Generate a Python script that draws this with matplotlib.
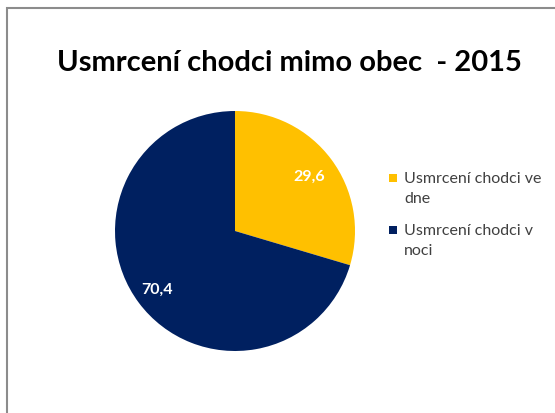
import matplotlib
matplotlib.use("Agg")
import matplotlib.pyplot as plt
from matplotlib.patches import Rectangle
import numpy as np

categories = ["Usmrcení chodci ve\ndne", "Usmrcení chodci v\nnoci"]
values = [29.6, 70.4]
colors = ["#FFC000", "#002060"]
title = "Usmrcení chodci mimo obec  - 2015"

W, H = 555, 414
fig = plt.figure(figsize=(W/100, H/100), dpi=100)
fig.patch.set_facecolor("white")

# outer chart-area border (cut at right and bottom)
fig.patches.append(Rectangle((7/W, -0.05), 1.2, (H-9)/H + 0.05, transform=fig.transFigure,
                             fill=False, edgecolor="#8c8c8c", linewidth=1.5))

ax = fig.add_axes([115/W, (H-352)/H, 240/W, 240/H])
wedges, _ = ax.pie(values, colors=colors, startangle=90, counterclock=False, radius=1,
                   wedgeprops=dict(linewidth=0))
ax.set_xlim(-1, 1)
ax.set_ylim(-1, 1)
ax.set_aspect("equal")
ax.axis("off")

dists = [0.77, 0.81]
for w, v, d in zip(wedges, values, dists):
    ang = np.deg2rad((w.theta1 + w.theta2) / 2)
    ax.text(d*np.cos(ang), d*np.sin(ang), f"{v:.1f}".replace(".", ","), color="white",
            fontsize=11.5, fontweight="bold", family="Lato", ha="center", va="center")

fig.text(289/W, 1 - 63/H, title, ha="center", va="center", fontsize=21,
         fontweight="bold", family="Lato", color="black")

# legend drawn manually to match Excel-like spacing
entry_y = [179, 231]
for c, lab, y0 in zip(colors, categories, entry_y):
    fig.patches.append(Rectangle((389/W, 1 - (y0 + 4)/H), 8/W, 8/H,
                                 transform=fig.transFigure, facecolor=c, edgecolor="none"))
    for i, line in enumerate(lab.split("\n")):
        fig.text(404/W, 1 - (y0 + 20*i)/H, line, ha="left", va="center",
                 fontsize=11.5, family="Lato", color="#404040")

fig.savefig("out.png", dpi=100)
